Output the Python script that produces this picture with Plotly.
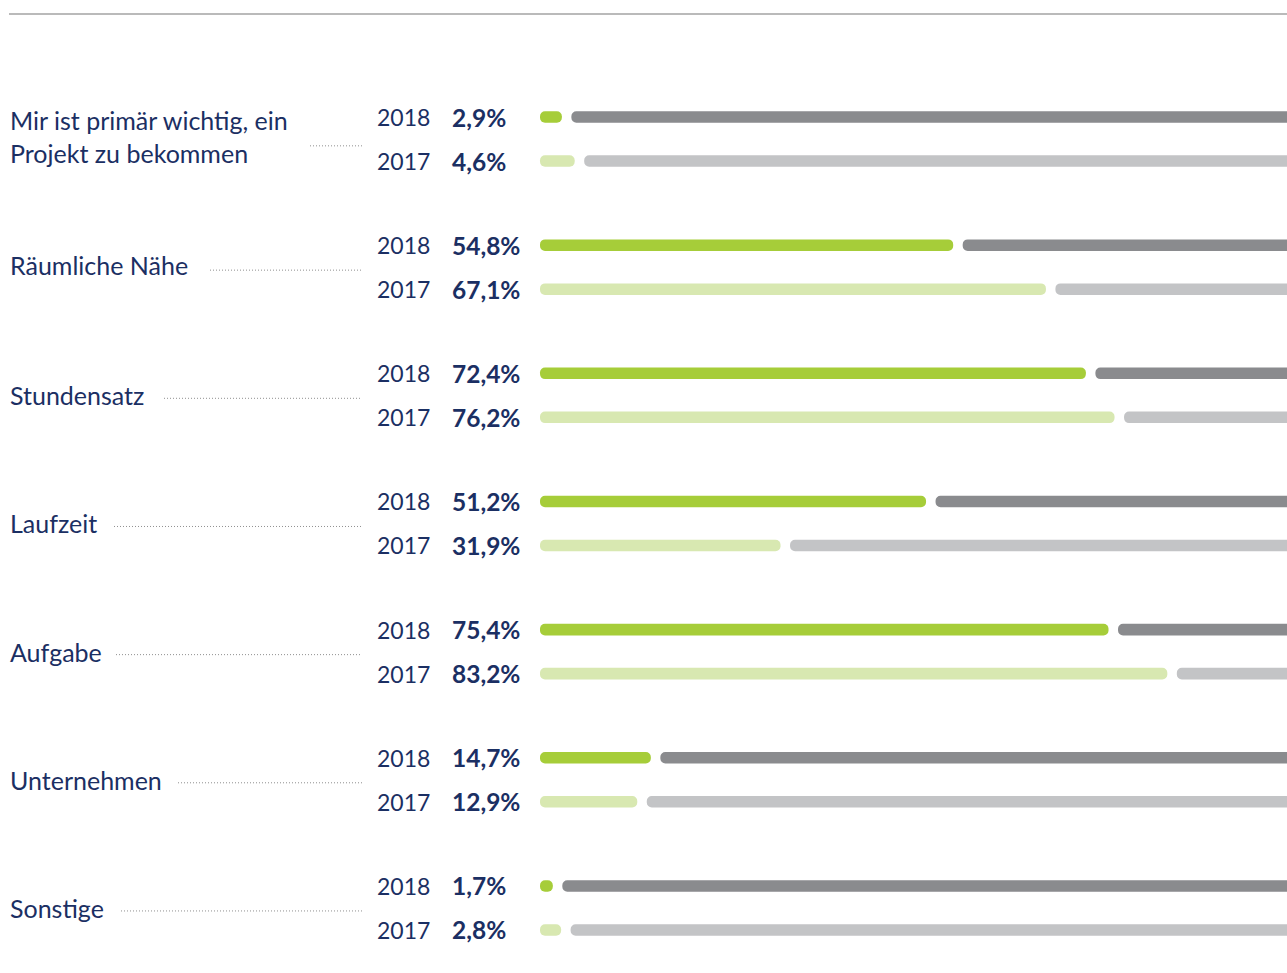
import plotly.graph_objects as go

# ---------------- data ----------------
categories = [
    "Mir ist primär wichtig, ein<br>Projekt zu bekommen",
    "Räumliche Nähe",
    "Stundensatz",
    "Laufzeit",
    "Aufgabe",
    "Unternehmen",
    "Sonstige",
]
values_2018 = [2.9, 54.8, 72.4, 51.2, 75.4, 14.7, 1.7]
values_2017 = [4.6, 67.1, 76.2, 31.9, 83.2, 12.9, 2.8]
year_labels = ["2018", "2017"]

# ---------------- layout helpers ----------------
W, H = 1287, 973
PX_PER_PCT = 7.54          # horizontal scale (px per percentage point)
ZERO_PX = 540              # pixel where 0 % starts
PX_PER_UNIT = 42.72        # vertical scale
ROW0_PX = 117              # pixel centre of first row

def xv(px):
    return (px - ZERO_PX) / PX_PER_PCT

def yv(px):
    return (px - ROW0_PX) / PX_PER_UNIT

GROUP_STEP = 3.0
ROW_OFFSET_2017 = 1.03
GAP = 9.5 / PX_PER_PCT      # gap between coloured bar and grey remainder
BAR_W = 0.27

NAVY = "#1b2f63"
GREEN_18, GREEN_17 = "#a6cd39", "#d8e8b1"
GREY_18, GREY_17 = "#8a8b8e", "#c3c4c6"
FONT = "Lato"

leader_start_px = [310, 210, 164, 114, 116, 178, 121]
leader_end_px = 362

y18 = [GROUP_STEP * i for i in range(len(categories))]
y17 = [GROUP_STEP * i + ROW_OFFSET_2017 for i in range(len(categories))]
ymid = [GROUP_STEP * i + ROW_OFFSET_2017 / 2 for i in range(len(categories))]

fig = go.Figure()

def add_bars(ys, vals, col, gcol):
    fig.add_trace(go.Bar(
        y=ys, x=vals, base=[0] * len(vals), orientation="h", width=BAR_W,
        marker=dict(color=col, cornerradius=6, line=dict(width=0)),
        hoverinfo="skip", showlegend=False,
    ))
    fig.add_trace(go.Bar(
        y=ys, x=[100 - v - GAP for v in vals], base=[v + GAP for v in vals],
        orientation="h", width=BAR_W,
        marker=dict(color=gcol, cornerradius=6, line=dict(width=0)),
        hoverinfo="skip", showlegend=False,
    ))

add_bars(y18, values_2018, GREEN_18, GREY_18)
add_bars(y17, values_2017, GREEN_17, GREY_17)

# leader lines
for i, sp in enumerate(leader_start_px):
    dy = 0.16 if i == 0 else 0.07
    fig.add_trace(go.Scatter(
        x=[xv(sp), xv(leader_end_px)], y=[ymid[i] + dy] * 2, mode="lines",
        line=dict(color="#8f8f8f", width=1, dash="1px,2px"),
        hoverinfo="skip", showlegend=False,
    ))

# top rule
fig.add_trace(go.Scatter(
    x=[xv(9), xv(W + 5)], y=[yv(14)] * 2, mode="lines",
    line=dict(color="#a3a3a3", width=1.5),
    hoverinfo="skip", showlegend=False,
))

annotations = []
for i, cat in enumerate(categories):
    annotations.append(dict(
        x=xv(8), y=ymid[i] - (0.06 if i < 2 else 0), xref="x", yref="y", text=cat,
        showarrow=False, xanchor="left", yanchor="middle", align="left",
        font=dict(family=FONT, size=25, color=NAVY),
    ))
    for ys, vals, yl in ((y18, values_2018, year_labels[0]), (y17, values_2017, year_labels[1])):
        annotations.append(dict(
            x=xv(375), y=ys[i], xref="x", yref="y", text=yl, showarrow=False,
            xanchor="left", yanchor="middle",
            font=dict(family=FONT, size=23, color=NAVY),
        ))
        annotations.append(dict(
            x=xv(450), y=ys[i], xref="x", yref="y",
            text="<b>" + f"{vals[i]:.1f}".replace(".", ",") + "%</b>",
            showarrow=False, xanchor="left", yanchor="middle",
            font=dict(family=FONT, size=24.5, color=NAVY),
        ))

fig.update_layout(
    width=W, height=H,
    margin=dict(l=0, r=0, t=0, b=0, pad=0),
    paper_bgcolor="white", plot_bgcolor="white",
    barmode="overlay",
    annotations=annotations,
    xaxis=dict(range=[xv(0), xv(W)], visible=False, fixedrange=True),
    yaxis=dict(range=[yv(H), yv(0)], visible=False, fixedrange=True),
)

fig.write_html(
    "out.html",
    config={"displayModeBar": False},
    post_script="document.body.style.margin='0';document.body.style.overflow='hidden';",
)
